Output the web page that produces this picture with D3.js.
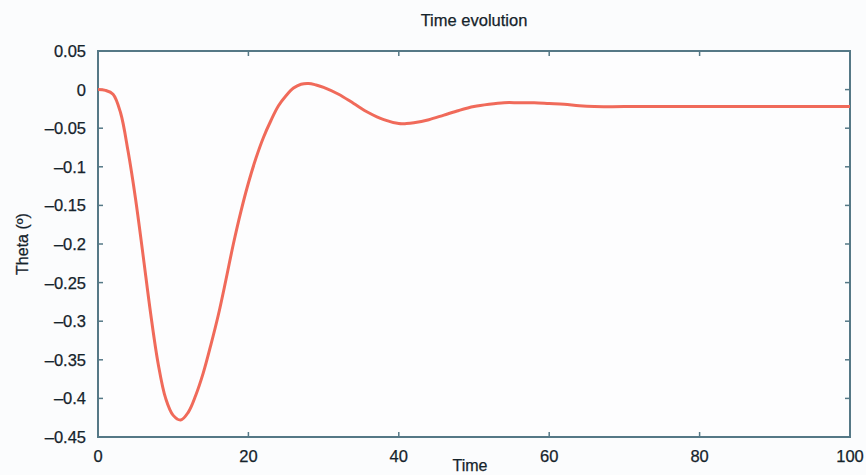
<!DOCTYPE html>
<html><head><meta charset="utf-8">
<script src="https://cdn.jsdelivr.net/npm/d3@7"></script>
<style>
html,body{margin:0;padding:0;background:#fbfcfd;}
svg{display:block;}
text{font-family:"Liberation Sans",Arial,sans-serif;fill:#15232b;stroke:#15232b;stroke-width:0.25px;}
</style></head>
<body>
<script>
const time  = [0,1,2,3,4,5,6,7,8,9,10,11,12,13,14,15,16,17,18,19,20,21,22,23,24,25,26,27,28,29,30,32,34,36,38,40,41,42,44,46,48,50,52,54,56,58,60,62,64,66,70,80,90,100];
const theta = [0,-0.001,-0.006,-0.030,-0.080,-0.142,-0.215,-0.290,-0.355,-0.400,-0.422,-0.428,-0.418,-0.396,-0.367,-0.331,-0.292,-0.247,-0.200,-0.158,-0.121,-0.089,-0.062,-0.040,-0.021,-0.008,0.002,0.007,0.008,0.006,0.003,-0.006,-0.018,-0.030,-0.039,-0.044,-0.044,-0.043,-0.039,-0.033,-0.027,-0.022,-0.019,-0.017,-0.017,-0.017,-0.018,-0.019,-0.021,-0.022,-0.022,-0.022,-0.022,-0.022];
const xTicks = [0,20,40,60,80,100];
const yTicks = [0.05,0,-0.05,-0.1,-0.15,-0.2,-0.25,-0.3,-0.35,-0.4,-0.45];
const title = "Time evolution", xLabel = "Time", yLabel = "Theta (º)";

const W = 866, H = 475;
const m = {l:98, r:850, t:51, b:437};
const axisCol = "#557886";
const svg = d3.select("body").append("svg").attr("width",W).attr("height",H);
const x = d3.scaleLinear().domain([0,100]).range([m.l,m.r]);
const y = d3.scaleLinear().domain([-0.45,0.05]).range([m.b,m.t]);
const fmt = v => (v===0?"0":String(v).replace("-","\u2013"));

svg.append("rect").attr("x",m.l).attr("y",m.t).attr("width",m.r-m.l).attr("height",m.b-m.t)
  .attr("fill","#fdfdfe").attr("stroke",axisCol).attr("stroke-width",2);

const tl = 5;
const gx = svg.append("g");
xTicks.forEach(t=>{
  gx.append("line").attr("x1",x(t)).attr("x2",x(t)).attr("y1",m.b).attr("y2",m.b-tl).attr("stroke",axisCol).attr("stroke-width",1.5);
  gx.append("line").attr("x1",x(t)).attr("x2",x(t)).attr("y1",m.t).attr("y2",m.t+tl).attr("stroke",axisCol).attr("stroke-width",1.5);
  gx.append("text").attr("x",x(t)).attr("y",462).attr("text-anchor","middle").attr("font-size",16.5).text(fmt(t));
});
const gy = svg.append("g");
yTicks.forEach(v=>{
  gy.append("line").attr("x1",m.l).attr("x2",m.l+tl).attr("y1",y(v)).attr("y2",y(v)).attr("stroke",axisCol).attr("stroke-width",1.5);
  gy.append("line").attr("x1",m.r).attr("x2",m.r-tl).attr("y1",y(v)).attr("y2",y(v)).attr("stroke",axisCol).attr("stroke-width",1.5);
  gy.append("text").attr("x",86).attr("y",y(v)).attr("dy","0.36em").attr("text-anchor","end").attr("font-size",16.5).text(fmt(v));
});

const data = time.map((t,i)=>({t, v:theta[i]}));
svg.append("path").datum(data)
  .attr("fill","none").attr("stroke","#f06a5a").attr("stroke-width",3).attr("stroke-linejoin","round")
  .attr("d", d3.line().x(d=>x(d.t)).y(d=>y(d.v)).curve(d3.curveCatmullRom.alpha(0.5)));

svg.append("text").attr("x",(m.l+m.r)/2).attr("y",26).attr("text-anchor","middle").attr("font-size",16.5).text(title);
svg.append("text").attr("x",(m.l+m.r)/2-4).attr("y",471).attr("text-anchor","middle").attr("font-size",16).text(xLabel);
svg.append("text").attr("transform",`translate(28,${(m.t+m.b)/2}) rotate(-90)`).attr("text-anchor","middle").attr("font-size",16).text(yLabel);
</script>
</body></html>
